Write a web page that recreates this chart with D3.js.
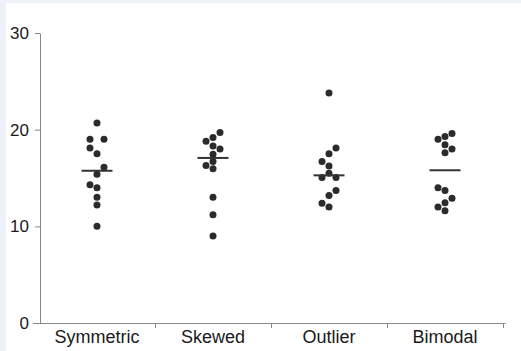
<!DOCTYPE html>
<html>
<head>
<meta charset="utf-8">
<script src="https://cdn.jsdelivr.net/npm/d3@7"></script>
<style>
  body { margin: 0; background: #eef1fa; }
  svg { position: absolute; left: 6px; top: 3px; background: #fff; }
  text { font-family: "Liberation Sans", Arial, sans-serif; fill: #1a1a1a; }
</style>
</head>
<body>
<svg width="515" height="348"></svg>
<script>
// chart data
const categories = ['Symmetric', 'Skewed', 'Outlier', 'Bimodal'];
const symmetric = [20.7, 19.0, 19.0, 18.1, 17.5, 16.1, 15.4, 14.3, 14.0, 13.0, 12.2, 10.0];
const skewed = [19.7, 19.2, 18.8, 18.3, 18.0, 17.45, 16.7, 16.3, 15.95, 13.0, 11.2, 9.0];
const outlier = [23.8, 18.1, 17.5, 16.7, 16.25, 15.5, 15.05, 15.05, 13.7, 13.2, 12.4, 12.0];
const bimodal = [19.6, 19.3, 19.0, 18.45, 18.0, 17.6, 14.0, 13.7, 12.9, 12.45, 12.0, 11.6];
const yTicks = [0, 10, 20, 30];

const seriesValues = [symmetric, skewed, outlier, bimodal];

const svg = d3.select('svg');
// svg sits at (6,3) on the page, so shift everything back
const g = svg.append('g').attr('transform', 'translate(-6, -3)');

const xScale = d3.scaleBand()
    .domain(categories)
    .range([39, 503]);

const yScale = d3.scaleLinear()
    .domain([0, 30])
    .range([323, 33]);

const r = 3.5;
const step = 7;

// simple swarm: place from the bottom up, nudge sideways when dots would overlap
const swarm = values => {
    const sorted = values.slice().sort((a, b) => a - b);
    const placed = [];
    let lastSide = 1;
    const free = (dx, y) => placed.every(p => Math.hypot(p.dx - dx, p.y - y) >= step);
    for (let i = 0; i < sorted.length; i++) {
        const v = sorted[i];
        const y = yScale(v);
        // tied values share a row, spread evenly round the centre
        let n = 1;
        while (i + n < sorted.length && sorted[i + n] === v) n++;
        if (n > 1) {
            for (let k = 0; k < n; k++) {
                const off = n % 2 === 0
                    ? (k % 2 === 0 ? -1 : 1) * (Math.floor(k / 2) + 1) * step
                    : (k === 0 ? 0 : (k % 2 === 1 ? -1 : 1) * Math.ceil(k / 2) * step);
                placed.push({ v, y, dx: off });
            }
            i += n - 1;
            continue;
        }
        if (free(0, y)) { placed.push({ v, y, dx: 0 }); continue; }
        let done = false;
        for (let lvl = 1; !done; lvl++) {
            for (const side of [-lastSide, lastSide]) {
                if (free(side * lvl * step, y)) {
                    placed.push({ v, y, dx: side * lvl * step });
                    lastSide = side;
                    done = true;
                    break;
                }
            }
        }
    }
    return placed;
};

// y axis
const yAxis = d3.axisLeft(yScale)
    .tickValues(yTicks)
    .tickSize(5)
    .tickSizeOuter(0)
    .tickPadding(6)
    .tickFormat(d3.format('d'));

const yAxisG = g.append('g')
    .attr('transform', 'translate(40, 0)')
    .call(yAxis);
yAxisG.selectAll('path, line').attr('stroke', '#888');
yAxisG.selectAll('text')
    .attr('font-size', 17)
    .attr('fill', '#1a1a1a');

// x axis: baseline with ticks between the categories
g.append('line')
    .attr('x1', 33).attr('x2', 505.5)
    .attr('y1', yScale(0) + 0.5).attr('y2', yScale(0) + 0.5)
    .attr('stroke', '#888');

g.selectAll('.sep').data(categories)
    .enter().append('line')
        .attr('class', 'sep')
        .attr('x1', d => xScale(d) + xScale.bandwidth() + 0.5)
        .attr('x2', d => xScale(d) + xScale.bandwidth() + 0.5)
        .attr('y1', yScale(0))
        .attr('y2', yScale(0) + 5)
        .attr('stroke', '#888');

const xAxisG = g.append('g')
    .attr('transform', `translate(0, ${yScale(0)})`)
    .call(d3.axisBottom(xScale).tickSize(0).tickPadding(7));
xAxisG.select('.domain').remove();
xAxisG.selectAll('text')
    .attr('font-size', 18)
    .attr('fill', '#1a1a1a');

// dots and median lines
categories.forEach((c, i) => {
    const cx = xScale(c) + xScale.bandwidth() / 2;
    const pts = swarm(seriesValues[i]);

    g.append('g').selectAll('circle').data(pts)
        .enter().append('circle')
            .attr('cx', d => cx + d.dx)
            .attr('cy', d => d.y)
            .attr('r', r)
            .attr('fill', '#2b2b2b');

    const med = d3.median(seriesValues[i]);
    g.append('line')
        .attr('x1', cx - 15.5)
        .attr('x2', cx + 15.5)
        .attr('y1', yScale(med))
        .attr('y2', yScale(med))
        .attr('stroke', '#333')
        .attr('stroke-width', 2);
});
</script>
</body>
</html>
